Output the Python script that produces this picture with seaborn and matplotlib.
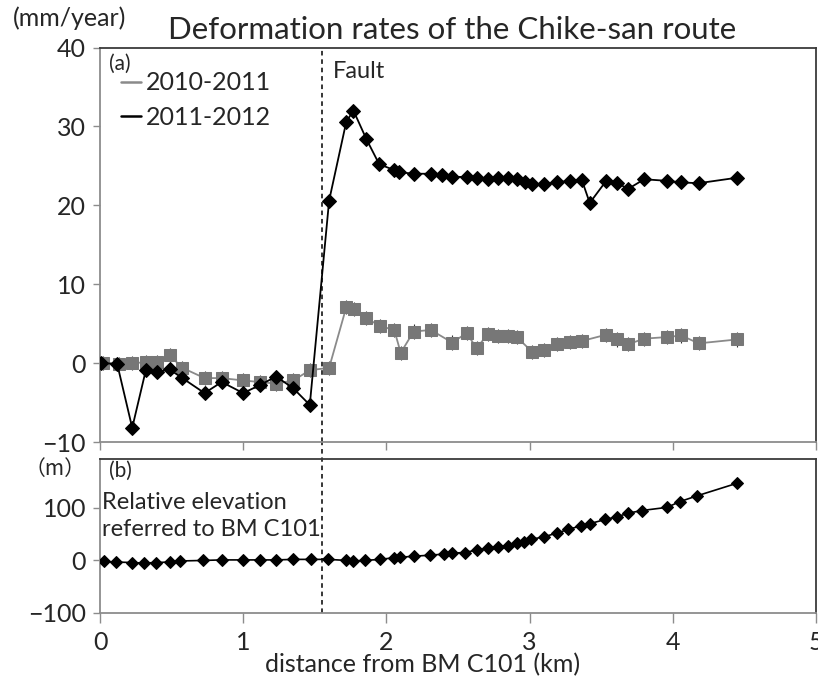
import numpy as np
import pandas as pd
import matplotlib
matplotlib.use("Agg")
import matplotlib.pyplot as plt
import seaborn as sns
from matplotlib.lines import Line2D

# ---- data ----
x_2011_2012 = [0.01, 0.12, 0.225, 0.32, 0.40, 0.486, 0.575, 0.73, 0.85, 1.0, 1.115, 1.23, 1.35, 1.465,
               1.60, 1.72, 1.77, 1.86, 1.95, 2.05, 2.09, 2.19, 2.31, 2.39, 2.46, 2.56, 2.63, 2.71, 2.78,
               2.85, 2.91, 2.97, 3.02, 3.10, 3.19, 3.28, 3.365, 3.42, 3.535, 3.61, 3.69, 3.80, 3.96,
               4.06, 4.18, 4.45]
y_2011_2012 = [0.0, -0.1, -8.2, -0.9, -1.1, -0.8, -1.9, -3.8, -2.4, -3.8, -2.8, -1.7, -3.2, -5.3,
               20.6, 30.6, 32.0, 28.4, 25.2, 24.5, 24.2, 24.0, 24.0, 23.8, 23.6, 23.6, 23.5, 23.3, 23.5,
               23.4, 23.3, 23.0, 22.7, 22.7, 22.9, 23.1, 23.2, 20.3, 23.1, 22.8, 22.1, 23.3, 23.1,
               22.9, 22.8, 23.5]

x_2010_2011 = [0.02, 0.13, 0.225, 0.32, 0.40, 0.486, 0.575, 0.73, 0.85, 1.0, 1.115, 1.23, 1.35, 1.465,
               1.60, 1.72, 1.775, 1.86, 1.955, 2.055, 2.10, 2.19, 2.31, 2.46, 2.56, 2.63, 2.71, 2.78,
               2.85, 2.91, 3.02, 3.10, 3.19, 3.28, 3.365, 3.535, 3.61, 3.69, 3.80, 3.96, 4.06, 4.18, 4.45]
y_2010_2011 = [0.0, -0.1, 0.0, 0.1, 0.1, 1.0, -0.6, -1.9, -1.9, -2.2, -2.4, -2.6, -2.2, -0.9,
               -0.6, 7.1, 6.9, 5.7, 4.7, 4.2, 1.3, 4.0, 4.2, 2.6, 3.8, 1.9, 3.7, 3.4,
               3.4, 3.3, 1.4, 1.7, 2.4, 2.7, 2.8, 3.6, 3.0, 2.4, 3.1, 3.3, 3.5, 2.5, 3.0]
err_2010_2011 = [0.9] * len(x_2010_2011)

x_elev = [0.03, 0.11, 0.22, 0.31, 0.39, 0.49, 0.56, 0.72, 0.85, 1.0, 1.115, 1.23, 1.35, 1.47,
          1.595, 1.72, 1.77, 1.85, 1.955, 2.05, 2.095, 2.19, 2.305, 2.40, 2.46, 2.55, 2.63, 2.71,
          2.78, 2.85, 2.91, 2.96, 3.01, 3.10, 3.19, 3.27, 3.36, 3.42, 3.53, 3.61, 3.69, 3.785,
          3.96, 4.05, 4.17, 4.45]
y_elev = [-2, -3, -4, -5, -4, -3, -1, 0, 1, 1, 1, 1, 2, 2,
          2, 0, -1, 0, 2, 5, 6, 8, 10, 12, 14, 15, 20, 23,
          25, 28, 33, 36, 40, 45, 52, 59, 66, 70, 78, 83, 90, 95,
          101, 112, 123, 147]

fault_km = 1.55
x_ticks = [0, 1, 2, 3, 4, 5]
top_yticks = [-10, 0, 10, 20, 30, 40]
bot_yticks = [-100, 0, 100]

# ---- style ----
sns.set_style("ticks")
plt.rcParams['font.family'] = ['Lato', 'DejaVu Sans']
FS = 18

fig = plt.figure(figsize=(8.18, 6.82), dpi=100)
ax1 = fig.add_axes([100/818, 1-442/682, 716/818, 394.5/682])
ax2 = fig.add_axes([100/818, 1-613/682, 716/818, 154/682])

df_b = pd.DataFrame({"x": x_2011_2012, "y": y_2011_2012})
df_g = pd.DataFrame({"x": x_2010_2011, "y": y_2010_2011})
df_e = pd.DataFrame({"x": x_elev, "y": y_elev})

# gray series with small error bars
ax1.errorbar(df_g["x"], df_g["y"], yerr=err_2010_2011, fmt='none', ecolor='#333333',
             elinewidth=0.8, capsize=0, zorder=2)
sns.lineplot(data=df_g, x="x", y="y", ax=ax1, color='#8a8a8a', lw=1.3, marker='s',
             markersize=9, markerfacecolor='#777777', markeredgecolor='#777777',
             estimator=None, sort=False, zorder=3)
sns.lineplot(data=df_b, x="x", y="y", ax=ax1, color='black', lw=1.3, marker='D',
             markersize=7.5, markerfacecolor='black', markeredgecolor='black',
             estimator=None, sort=False, zorder=4)
sns.lineplot(data=df_e, x="x", y="y", ax=ax2, color='black', lw=1.2, marker='D',
             markersize=6.5, markerfacecolor='black', markeredgecolor='black',
             estimator=None, sort=False, zorder=4)

for ax in (ax1, ax2):
    ax.set_xlim(0, 5)
    ax.set_xticks(x_ticks)
    ax.set_xlabel("")
    ax.set_ylabel("")
    for s in ('left', 'bottom'):
        ax.spines[s].set_color('#8c8c8c')
        ax.spines[s].set_linewidth(1.3)
    for s in ('top', 'right'):
        ax.spines[s].set_visible(True)
        ax.spines[s].set_color('#3a3a3a')
        ax.spines[s].set_linewidth(1.3)
    ax.tick_params(axis='both', direction='out', length=5, width=1, color='#8c8c8c',
                   labelsize=FS, pad=5)
    ax.axvline(fault_km, color='black', lw=1.1, ls=(0, (3, 2.5)), zorder=1)

ax1.set_ylim(-10, 40)
ax1.set_yticks(top_yticks)
ax1.set_yticklabels(["\u221210", "0", "10", "20", "30", "40"])
ax1.tick_params(axis='x', labelbottom=False, length=6)
ax1.axvline(fault_km, ymin=-0.05, ymax=0, color='black', lw=1.1, ls=(0, (3, 2.5)),
            clip_on=False)

ax2.set_ylim(-100, 193)
ax2.set_yticks(bot_yticks)
ax2.set_yticklabels(["\u2212100", "0", "100"])
ax2.set_xticklabels([str(v) for v in x_ticks])
ax2.tick_params(axis='x', length=7, pad=6)
ax2.set_xlabel("distance from BM C101 (km)", fontsize=FS)
ax2.xaxis.set_label_coords(0.45, -0.262)
ax2.xaxis.label.set_va('top')

# texts
fig.text(452/818, 1-30/682, "Deformation rates of the Chike-san route", fontsize=22.5,
         ha='center', va='center')
fig.text(70/818, 1-18/682, "(mm/year)", fontsize=18, ha='center', va='center')
fig.text(55/818, 1-469/682, "（m）", fontsize=15, ha='center', va='center',
         family=['Noto Sans CJK JP', 'DejaVu Sans'])
ax1.text(0.012, 0.985, "(a)", transform=ax1.transAxes, fontsize=15, ha='left', va='top')
ax1.text(0.325, 0.965, "Fault", transform=ax1.transAxes, fontsize=17, ha='left', va='top')
ax2.text(0.012, 0.985, "(b)", transform=ax2.transAxes, fontsize=15, ha='left', va='top')
ax2.text(0.003, 0.785, "Relative elevation\nreferred to BM C101", transform=ax2.transAxes,
         fontsize=17, ha='left', va='top', linespacing=1.35)

handles = [Line2D([], [], color='#8a8a8a', lw=1.8), Line2D([], [], color='black', lw=1.8)]
ax1.legend(handles, ["2010-2011", "2011-2012"], loc='upper left', bbox_to_anchor=(0.015, 0.965),
           frameon=False, fontsize=18, handlelength=0.8, handletextpad=0.2,
           labelspacing=0.45, borderaxespad=0)

fig.savefig("out.png", dpi=100)
